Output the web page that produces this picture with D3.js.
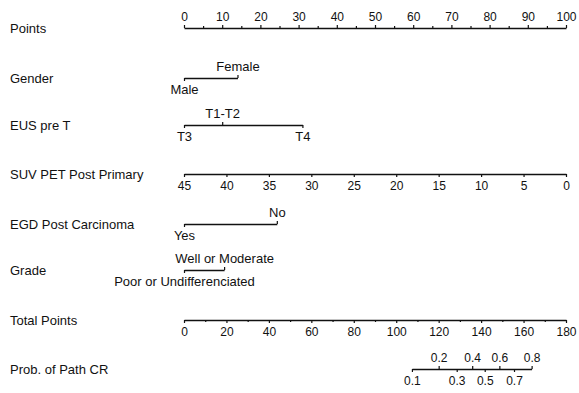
<!DOCTYPE html>
<html>
<head>
<meta charset="utf-8">
<script src="https://cdn.jsdelivr.net/npm/d3@7"></script>
<style>
  body { margin: 0; background: #fff; }
  svg text { font-family: "Liberation Sans", Arial, sans-serif; font-size: 13px; fill: #111; }
  svg text.num { font-size: 12px; }
</style>
</head>
<body>
<div id="chart"></div>
<script>
// values
var rowNames = ["Points", "Gender", "EUS pre T", "SUV PET Post Primary",
                "EGD Post Carcinoma", "Grade", "Total Points", "Prob. of Path CR"];

var pointsTicks = [0, 10, 20, 30, 40, 50, 60, 70, 80, 90, 100];
var pointsMinor = [5, 15, 25, 35, 45, 55, 65, 75, 85, 95];

var genderLevels = ["Male", "Female"];
var genderPoints = [0, 14];

var eusLevels = ["T3", "T1-T2", "T4"];
var eusPoints = [0, 10, 31];

var suvTicks = [45, 40, 35, 30, 25, 20, 15, 10, 5, 0];

var egdLevels = ["Yes", "No"];
var egdPoints = [0, 24.3];

var gradeLevels = ["Poor or Undifferenciated", "Well or Moderate"];
var gradePoints = [0, 10.5];

var totalTicks = [0, 20, 40, 60, 80, 100, 120, 140, 160, 180];
var totalMinor = [10, 30, 50, 70, 90, 110, 130, 150, 170];

var probLabels = [0.1, 0.2, 0.3, 0.4, 0.5, 0.6, 0.7, 0.8];
var probTotal  = [107.4, 120, 128.5, 135.8, 141.7, 148.6, 155.5, 163.8];

var width = 579, height = 393;
var x0 = 184, x1 = 566;
var rowY = [28, 78, 125, 174, 224, 270, 320, 369];

var svg = d3.select("#chart").append("svg")
  .attr("width", width)
  .attr("height", height);

// one points scale, and the scales built on it
var xPts = d3.scaleLinear().domain([0, 100]).range([x0, x1]);
var xSuv = d3.scaleLinear().domain([45, 0]).range([x0, x1]);
var xTot = d3.scaleLinear().domain([0, 180]).range([x0, x1]);

// row titles
svg.selectAll("text.row")
  .data(rowNames)
  .enter().append("text")
  .attr("class", "row")
  .attr("x", 10)
  .attr("y", function(d, i) { return rowY[i]; })
  .attr("dy", "0.35em")
  .text(function(d) { return d; });

function styleAxis(g, numeric) {
  g.selectAll("path.domain").attr("stroke", "#111").attr("stroke-width", 1.6);
  g.selectAll(".tick line").attr("stroke", "#111").attr("stroke-width", 1.2);
  g.selectAll("text").attr("font-family", null).attr("font-size", null)
    .classed("num", !!numeric);
  g.attr("font-family", null).attr("font-size", null);
}

function continuousAxis(scale, ticks, minor, y, top) {
  var make = top ? d3.axisTop : d3.axisBottom;
  if (minor) {
    svg.append("g")
      .attr("transform", "translate(0," + y + ")")
      .call(make(scale).tickValues(minor).tickSize(2).tickSizeOuter(0).tickFormat(""))
      .call(function(g) { g.select("path.domain").remove(); })
      .call(styleAxis);
  }
  svg.append("g")
    .attr("transform", "translate(0," + y + ")")
    .call(make(scale).tickValues(ticks).tickSize(3).tickSizeOuter(0).tickPadding(4).tickFormat(d3.format("d")))
    .call(styleAxis, true);
}

// levels placed above or below the line, ticks point towards the label
function levelAxis(levels, pts, above, y, scale, fmt) {
  var lo = d3.min(pts), hi = d3.max(pts);
  var s = d3.scaleLinear().domain([lo, hi]).range([scale(lo), scale(hi)]);
  var up = [], down = [];
  pts.forEach(function(p, i) { (above[i] ? up : down).push(i); });
  var lookup = function(i) { return fmt ? fmt(levels[i]) : levels[i]; };

  svg.append("g")
    .attr("transform", "translate(0," + y + ")")
    .call(d3.axisTop(s).tickValues(up.map(function(i) { return pts[i]; }))
      .tickSize(3).tickSizeOuter(0).tickPadding(4)
      .tickFormat(function(d) { return lookup(pts.indexOf(d)); }))
    .call(styleAxis, !!fmt);

  svg.append("g")
    .attr("transform", "translate(0," + y + ")")
    .call(d3.axisBottom(s).tickValues(down.map(function(i) { return pts[i]; }))
      .tickSize(3).tickSizeOuter(0).tickPadding(4)
      .tickFormat(function(d) { return lookup(pts.indexOf(d)); }))
    .call(function(g) { g.select("path.domain").remove(); })
    .call(styleAxis, !!fmt);
}

continuousAxis(xPts, pointsTicks, pointsMinor, rowY[0], true);
levelAxis(genderLevels, genderPoints, [false, true], rowY[1], xPts);
levelAxis(eusLevels, eusPoints, [false, true, false], rowY[2], xPts);
continuousAxis(xSuv, suvTicks, null, rowY[3], false);
levelAxis(egdLevels, egdPoints, [false, true], rowY[4], xPts);
levelAxis(gradeLevels, gradePoints, [false, true], rowY[5], xPts);
continuousAxis(xTot, totalTicks, totalMinor, rowY[6], false);
levelAxis(probLabels, probTotal, probLabels.map(function(d, i) { return i % 2 === 1; }),
  rowY[7], xTot, d3.format(".1f"));
</script>
</body>
</html>
